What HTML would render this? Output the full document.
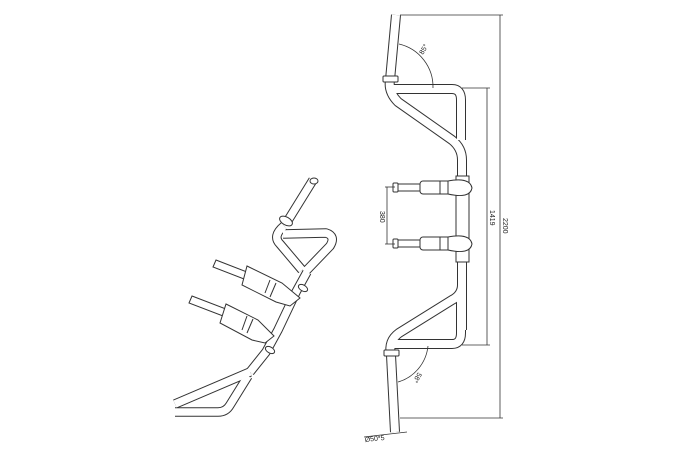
<!DOCTYPE html>
<html><head><style>html,body{margin:0;padding:0;background:#fff}svg{display:block}</style></head>
<body>
<svg width="681" height="450" viewBox="0 0 681 450" xmlns="http://www.w3.org/2000/svg" font-family="Liberation Sans, sans-serif">
<defs>
<g id="tubes-front" fill="none" stroke-linejoin="round" stroke-linecap="butt">
  <path d="M396 15 L390 80"/>
  <path d="M390 80 Q388 92 398 102 L452 140 Q462 148 462 160 L462 330"/>
  <path d="M393 89 L452 89 Q461 89 461 100 L461 140"/>
  <path d="M462 262 L462 285 Q462 295 452 300 L399 333 Q388 341 391 355"/>
  <path d="M393 344 L452 344 Q461 344 461 333 L461 295"/>
  <path d="M391 355 L395 432"/>
</g>
<g id="tubes-iso" fill="none" stroke-linejoin="round">
  <path d="M313 180 L287 222"/>
  <path d="M284 226 Q272 236 280 244 L302 270"/>
  <path d="M283 234 L326 233 Q336 236 330 246 L305 272"/>
  <path d="M307 272 L296 292 L278 330 L266 352 L250 372"/>
  <path d="M250 372 L175 404"/>
  <path d="M248 376 L230 405 Q226 412 218 412 L175 412"/>
</g>
</defs>
<g stroke="#333"><use href="#tubes-iso" stroke-width="9.5"/></g>
<g stroke="#fff"><use href="#tubes-iso" stroke-width="7.5"/></g>
<g fill="#fff" stroke="#333" stroke-width="1">
  <path d="M216 260 L247 272 L244 279 L213 267 Z"/>
  <path d="M247 266 L282 283 L300 298 L290 306 L276 302 L242 285 Z"/>
  <line x1="270" y1="280" x2="265" y2="293"/>
  <line x1="276" y1="283" x2="270" y2="297"/>
  <path d="M192 296 L226 309 L223 316 L189 303 Z"/>
  <path d="M226 304 L258 320 L274 336 L265 343 L252 340 L220 323 Z"/>
  <line x1="247" y1="316" x2="242" y2="330"/>
  <line x1="253" y1="319" x2="247" y2="333"/>
  <ellipse cx="286" cy="221" rx="7" ry="4" transform="rotate(30 286 221)"/>
  <ellipse cx="314" cy="181" rx="4" ry="3"/>
  <ellipse cx="303" cy="288" rx="5" ry="3" transform="rotate(30 303 288)"/>
  <ellipse cx="270" cy="350" rx="5" ry="3" transform="rotate(30 270 350)"/>
</g>
<g stroke="#333"><use href="#tubes-front" stroke-width="10"/></g>
<g stroke="#fff"><use href="#tubes-front" stroke-width="8"/></g>
<g fill="#fff" stroke="#333" stroke-width="1">
  <rect x="383" y="76" width="15" height="6" rx="1"/>
  <rect x="384" y="350" width="15" height="6" rx="1"/>
  <rect x="456" y="176" width="13" height="86"/>
  <rect x="420" y="181" width="36" height="13" rx="3"/>
  <line x1="440" y1="181" x2="440" y2="194"/>
  <rect x="397" y="184" width="23" height="7"/>
  <rect x="393" y="183" width="5" height="9" rx="1"/>
  <path d="M448 181 Q470 177 472 188 Q470 199 448 194 Z"/>
  <rect x="420" y="237" width="36" height="13" rx="3"/>
  <line x1="440" y1="237" x2="440" y2="250"/>
  <rect x="397" y="240" width="23" height="7"/>
  <rect x="393" y="239" width="5" height="9" rx="1"/>
  <path d="M448 237 Q470 233 472 244 Q470 255 448 250 Z"/>
</g>
<g stroke="#333" stroke-width="0.8" fill="none">
  <line x1="400" y1="15" x2="503" y2="15"/>
  <line x1="400" y1="418" x2="503" y2="418"/>
  <line x1="500" y1="15" x2="500" y2="418"/>
  <line x1="462" y1="88" x2="490" y2="88"/>
  <line x1="462" y1="345" x2="490" y2="345"/>
  <line x1="487" y1="88" x2="487" y2="345"/>
  <line x1="385" y1="187" x2="395" y2="187"/>
  <line x1="385" y1="244" x2="395" y2="244"/>
  <line x1="387" y1="187" x2="387" y2="244"/>
  <path d="M399 44 A44 44 0 0 1 433 88"/>
  <path d="M398 382 A42 42 0 0 0 428 346"/>
  <line x1="364" y1="437" x2="407" y2="432"/>
</g>
<g font-size="7" fill="#222">
  <text transform="translate(503 218) rotate(90)">2200</text>
  <text transform="translate(490 210) rotate(90)">1419</text>
  <text transform="translate(380 211) rotate(90)">380</text>
  <text transform="translate(423 55) rotate(-60)">85°</text>
  <text transform="translate(418 372) rotate(120)">58°</text>
  <text transform="translate(365 442) rotate(-6)">Ø50*5</text>
</g>
</svg>
</body></html>
